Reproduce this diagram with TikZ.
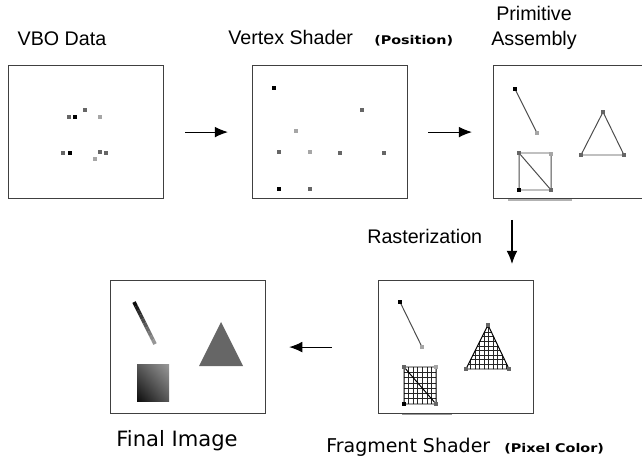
\documentclass[tikz,border=0pt]{standalone}
\usepackage{fontspec}
\setmainfont{Liberation Sans}
\newfontfamily\dvs{DejaVu Sans}
\newfontfamily\dvsw[FakeStretch=1.2]{DejaVu Sans}
\usetikzlibrary{arrows.meta,shadings}

\begin{document}
\begin{tikzpicture}[x=0.025cm,y=-0.025cm,
  bx/.style={draw=black!75,line width=0.8pt,inner sep=0,minimum width=3.875cm,minimum height=3.325cm},
  flow/.style={-{Latex[length=3.3mm,width=2.7mm]},line width=0.8pt},
  lb/.style={inner sep=0,font=\fontsize{14}{17}\selectfont},
  lbb/.style={inner sep=0,font=\dvs\fontsize{13.5}{16}\selectfont},
  sm/.style={inner sep=0,font=\dvsw\bfseries\fontsize{8.5}{10}\selectfont},
  e/.style={draw=black!70,line width=0.7pt},
  gl/.style={black!85,line width=0.5pt}]
  \useasboundingbox (0,0) rectangle (642,457);
  % the five stages
  \node[bx,anchor=north west] (vbo) at (8,65) {};
  \node[bx,anchor=north west] (vs) at (252,65) {};
  \node[bx,anchor=north west] (pa) at (493,65) {};
  \node[bx,anchor=north west] (fs) at (378,280) {};
  \node[bx,anchor=north west] (fi) at (110,280) {};
  \draw[black!30,line width=1pt] (508,200) -- (572,200);
  \draw[black!40,line width=1pt] (402,414.5) -- (452,414.5);
  % labels
  \node[lb,anchor=base] (tvbo) at (62,46) {VBO Data};
  \node[lb,anchor=base west] (tvs) at (228,45) {Vertex Shader};
  \node[sm,anchor=base west] (tpos) at (374,45) {(Position)};
  \node[lb,anchor=base] (tpa1) at (534,21) {Primitive};
  \node[lb,anchor=base] (tpa2) at (534,46) {Assembly};
  \node[lb,anchor=base west] (tras) at (367,244) {Rasterization};
  \node[lbb,anchor=base west,font=\dvs\fontsize{15}{18}\selectfont] (tfi) at (116,446) {Final Image};
  \node[lbb,anchor=base west] (tfs) at (326,452) {Fragment Shader};
  \node[sm,anchor=base west] (tcol) at (504,452) {(Pixel Color)};
  % arrows
  \coordinate (rz) at (512,220);
  \draw[flow,shorten <=0.525cm,shorten >=0.6cm] (vbo) -- (vs);
  \draw[flow,shorten <=0.5cm,shorten >=0.525cm] (vs) -- (pa);
  \draw[flow,shorten >=0.4cm] (rz) -- (rz |- fs.north);
  \draw[flow,shorten <=1.15cm,shorten >=0.575cm] (fs) -- (fi);
  % vertex data
  \foreach \x/\y/\c in {85/110/60,69/117/60,75/117/100,100/117/35,63/153/60,70/153/100,
      100/152/60,106/153/60,95/159/35,
      274/88/100,362/110/60,296/131/35,279/152/60,310/152/35,340/153/60,384/153/60,
      279/189/100,310/189/60}
    \fill[black!\c] (\x-2,\y-2) rectangle (\x+2,\y+2);
  % primitive assembly
  \draw[e] (515,89) -- (537,133);
  \draw[e] (519,153) rectangle (551,190) (519,153) -- (551,190);
  \draw[e] (603,112) -- (581,155) -- (624,155) -- cycle;
  % fragments
  \foreach \i in {1,...,6} {
    \draw[gl] ({404+\i*32/7},367) -- ++(0,37);
    \draw[gl] (404,{367+\i*37/7}) -- ++(32,0);
  }
  \begin{scope}
    \clip (488,325) -- (466,369) -- (509,369) -- cycle;
    \foreach \i in {1,...,9} {
      \draw[gl] ({466+\i*4.5},320) -- ++(0,52);
      \draw[gl] (460,{369-\i*4.6}) -- ++(56,0);
    }
  \end{scope}
  \draw[e] (400,302) -- (422,347);
  \draw[e,black] (404,367) rectangle (436,404) (404,367) -- (436,404);
  \draw[e,black] (488,325) -- (466,369) -- (509,369) -- cycle;
  \foreach \x/\y/\c in {515/89/100,537/133/35,519/153/60,551/154/35,519/190/100,551/190/60,
      603/112/60,581/155/60,624/155/60,
      400/302/100,422/347/35,404/367/60,436/367/35,404/404/100,436/404/60,
      488/325/60,466/369/60,509/369/60}
    \fill[black!\c] (\x-2,\y-2) rectangle (\x+2,\y+2);
  % final image
  \foreach \i [evaluate=\i as \c using 95-6*\i] in {0,...,9}
    \draw[line width=2.6pt,black!\c] ({134+2.1*\i},{302+4.2*\i}) -- ({136.1+2.1*\i},{306.2+4.2*\i});
  \fill[black!60] (221,322) -- (199,366) -- (243,366) -- cycle;
  \shade[upper left=black!65,upper right=black!40,lower left=black!95,lower right=black!65]
    (137,364) rectangle (169,401);
\end{tikzpicture}
\end{document}
